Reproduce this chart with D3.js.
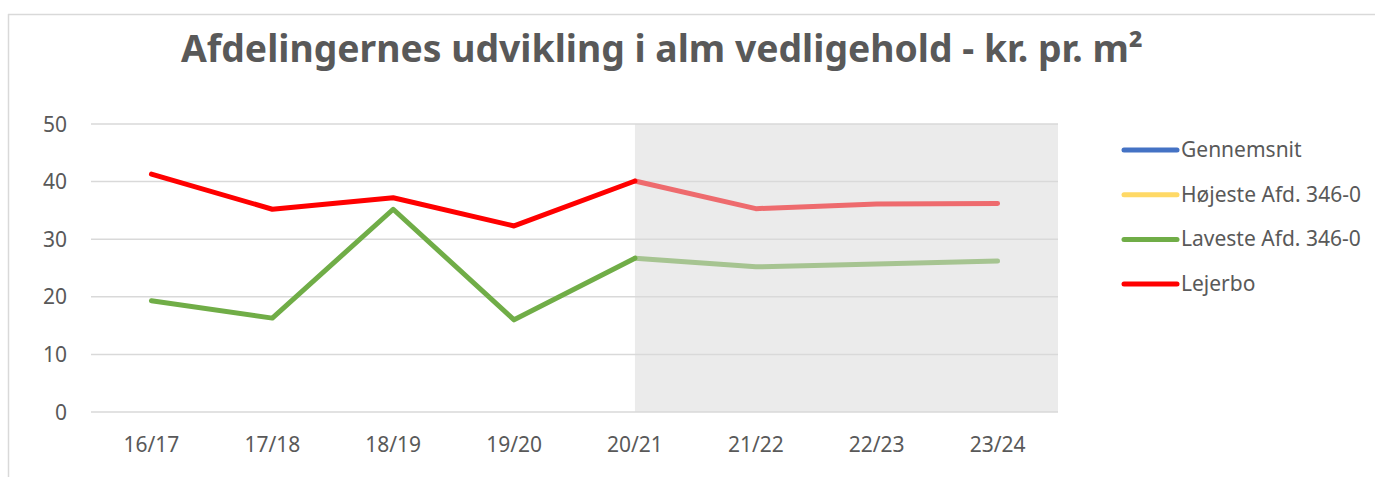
<!DOCTYPE html>
<html>
<head>
<meta charset="utf-8">
<script src="https://cdn.jsdelivr.net/npm/d3@7"></script>
<style>
  body { margin: 0; background: #fff; }
  text { font-family: "Noto Sans", "Open Sans", sans-serif; fill: #595959; }
</style>
</head>
<body>
<span></span>
<script>
// data
var categories = ["16/17", "17/18", "18/19", "19/20", "20/21", "21/22", "22/23", "23/24"];
var lejerbo = [41.3, 35.2, 37.2, 32.3, 40.1, 35.3, 36.1, 36.2];
var laveste = [19.3, 16.3, 35.2, 16.0, 26.7, 25.2, 25.7, 26.2];
var yTicks = [0, 10, 20, 30, 40, 50];
var legendNames = ["Gennemsnit", "Højeste Afd. 346-0", "Laveste Afd. 346-0", "Lejerbo"];
var legendColors = ["#4472C4", "#FFD966", "#70AD47", "#FF0000"];
var forecastFrom = "20/21";

var width = 1375;
var height = 477;
var plotLeft = 91, plotRight = 1058, plotTop = 124, plotBottom = 412;

var svg = d3.select("span")
	.append("svg")
	.attr("width", width)
	.attr("height", height);

// chart border (top + left visible)
svg.append("line").attr("x1", 8).attr("x2", width).attr("y1", 14.5).attr("y2", 14.5)
	.attr("stroke", "#d9d9d9").attr("stroke-width", 1.5);
svg.append("line").attr("x1", 8.5).attr("x2", 8.5).attr("y1", 14).attr("y2", height)
	.attr("stroke", "#d9d9d9").attr("stroke-width", 1.5);

var x = d3.scaleBand().domain(categories).range([plotLeft, plotRight]);
var y = d3.scaleLinear().domain([0, 50]).range([plotBottom, plotTop]);
function cx(c) { return x(c) + x.bandwidth() / 2; }

// shaded forecast area
svg.append("rect")
	.attr("x", cx(forecastFrom))
	.attr("y", y(50))
	.attr("width", plotRight - cx(forecastFrom))
	.attr("height", y(0) - y(50))
	.attr("fill", "#ebebeb");

// gridlines
svg.append("g")
	.selectAll("line")
	.data(yTicks)
	.enter()
	.append("line")
	.attr("x1", plotLeft)
	.attr("x2", plotRight)
	.attr("y1", function(d) { return y(d); })
	.attr("y2", function(d) { return y(d); })
	.attr("stroke", "#d9d9d9")
	.attr("stroke-width", 1.5);

// y axis labels
svg.append("g")
	.selectAll("text")
	.data(yTicks)
	.enter()
	.append("text")
	.attr("x", 67)
	.attr("y", function(d) { return y(d) + 7.5; })
	.attr("text-anchor", "end")
	.attr("font-size", 21)
	.text(function(d) { return d; });

// x axis labels
svg.append("g")
	.selectAll("text")
	.data(categories)
	.enter()
	.append("text")
	.attr("x", function(d) { return cx(d); })
	.attr("y", 452)
	.attr("text-anchor", "middle")
	.attr("font-size", 21)
	.text(function(d) { return d; });

var line = d3.line()
	.x(function(d) { return cx(d.c); })
	.y(function(d) { return y(d.v); });

function drawSeries(values, color, faded) {
	var pts = categories.map(function(c, i) { return {c: c, v: values[i]}; });
	var k = categories.indexOf(forecastFrom);
	svg.append("path")
		.datum(pts.slice(k))
		.attr("d", line)
		.attr("fill", "none")
		.attr("stroke", faded)
		.attr("stroke-width", 5)
		.attr("stroke-linecap", "round")
		.attr("stroke-linejoin", "round");
	svg.append("path")
		.datum(pts.slice(0, k + 1))
		.attr("d", line)
		.attr("fill", "none")
		.attr("stroke", color)
		.attr("stroke-width", 5)
		.attr("stroke-linecap", "round")
		.attr("stroke-linejoin", "round");
}
drawSeries(laveste, "#70AD47", "#a6c491");
drawSeries(lejerbo, "#FF0000", "#ee6b6e");

// title
svg.append("text")
	.attr("x", 662)
	.attr("y", 62)
	.attr("text-anchor", "middle")
	.attr("font-size", 37)
	.attr("font-weight", "bold")
	.attr("textLength", 962)
	.attr("lengthAdjust", "spacingAndGlyphs")
	.text("Afdelingernes udvikling i alm vedligehold - kr. pr. m²");

// legend
var legend = svg.append("g")
	.selectAll("g")
	.data(legendNames)
	.enter()
	.append("g")
	.attr("transform", function(d, i) { return "translate(1124," + (150 + i * 44.7) + ")"; });
legend.append("line")
	.attr("x1", 0).attr("x2", 53)
	.attr("stroke", function(d, i) { return legendColors[i]; })
	.attr("stroke-width", 5)
	.attr("stroke-linecap", "round");
legend.append("text")
	.attr("x", 57)
	.attr("y", 7)
	.attr("font-size", 21)
	.text(function(d) { return d; });
</script>
</body>
</html>
